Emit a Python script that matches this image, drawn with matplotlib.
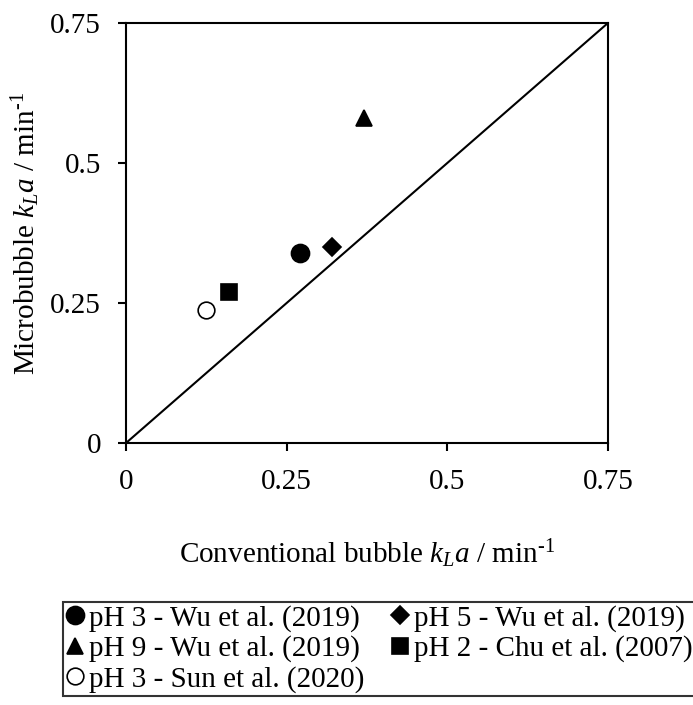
import matplotlib
matplotlib.use("Agg")
import matplotlib.pyplot as plt

# data
labels = ["pH 3 - Wu et al. (2019)", "pH 5 - Wu et al. (2019)",
          "pH 9 - Wu et al. (2019)", "pH 2 - Chu et al. (2007)",
          "pH 3 - Sun et al. (2020)"]
conv_kla = [0.27, 0.32, 0.37, 0.16, 0.125]
micro_kla = [0.34, 0.35, 0.58, 0.27, 0.238]
markers = ["o", "D", "^", "s", "o"]
msizes = [13, 9.5, 12, 11, 12]
faces = ["black", "black", "black", "black", "white"]

ticks = [0, 0.25, 0.5, 0.75]
tick_labels = ["0", "0.25", "0.5", "0.75"]

plt.rcParams["font.family"] = ["Liberation Serif", "DejaVu Serif"]
plt.rcParams["mathtext.fontset"] = "custom"
plt.rcParams["mathtext.rm"] = "Liberation Serif"
plt.rcParams["mathtext.it"] = "Liberation Serif:italic"

fs = 21

fig = plt.figure(figsize=(6.93, 7.05), dpi=100)
ax = fig.add_axes([0.1818, 0.3716, 0.6955, 0.5958])

ax.plot([0, 0.75], [0, 0.75], color="black", lw=1.5, zorder=1)

handles = []
for x, y, m, ms, fc, lab in zip(conv_kla, micro_kla, markers, msizes, faces, labels):
    h, = ax.plot([x], [y], linestyle="none", marker=m, markersize=ms,
                 markerfacecolor=fc, markeredgecolor="black",
                 markeredgewidth=1.2, label=lab, zorder=3)
    handles.append(h)

ax.set_xlim(0, 0.75)
ax.set_ylim(0, 0.75)
ax.set_xticks(ticks)
ax.set_xticklabels(tick_labels)
ax.set_yticks(ticks)
ax.set_yticklabels(tick_labels)
ax.tick_params(direction="out", length=6, width=1.5, labelsize=fs)
ax.tick_params(axis="x", pad=13)
ax.tick_params(axis="y", pad=12)
for s in ax.spines.values():
    s.set_linewidth(1.5)

ax.set_xlabel(r"Conventional bubble $k_La$ / min$^{\text{-1}}$", fontsize=fs, labelpad=30)
ax.set_ylabel(r"Microbubble $k_La$ / min$^{\text{-1}}$", fontsize=fs, labelpad=6)

# column-first ordering so rows read like the reference
order = [0, 2, 4, 1, 3]
leg = fig.legend([handles[i] for i in order], [labels[i] for i in order],
                 ncol=2, loc="upper left", bbox_to_anchor=(0.091, 0.146),
                 fontsize=fs, frameon=True, fancybox=False, edgecolor="black",
                 handlelength=0.6, handletextpad=0.2, columnspacing=0.9,
                 labelspacing=0.12, borderpad=0.1, markerscale=1.0,
                 borderaxespad=0)
leg.get_frame().set_linewidth(1.5)

fig.savefig("out.png", dpi=100)
